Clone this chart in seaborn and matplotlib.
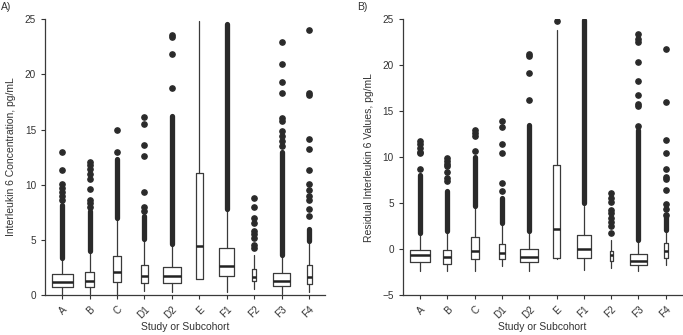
import numpy as np
import seaborn as sns
import matplotlib.pyplot as plt

# Study / subcohort labels and relative box widths (proportional to group size)
cats = ["A", "B", "C", "D1", "D2", "E", "F1", "F2", "F3", "F4"]
il6_width = [0.77, 0.30, 0.28, 0.26, 0.67, 0.26, 0.55, 0.13, 0.61, 0.18]
res_width = [0.76, 0.28, 0.29, 0.24, 0.67, 0.28, 0.51, 0.11, 0.62, 0.16]

# Panel A: interleukin 6 concentration, pg/mL
il6_whislo = [0.05, 0.10, 0.00, 0.40, 0.25, 1.45, 0.30, 0.55, 0.10, 0.25]
il6_q1 = [0.70, 0.70, 1.15, 1.09, 1.09, 1.45, 1.70, 1.24, 0.85, 1.00]
il6_med = [1.18, 1.24, 2.06, 1.70, 1.70, 4.48, 2.67, 1.60, 1.30, 1.60]
il6_q3 = [1.88, 2.09, 3.58, 2.73, 2.58, 11.09, 4.24, 2.36, 1.97, 2.73]
il6_whishi = [3.30, 3.90, 6.97, 4.94, 4.55, 24.80, 7.67, 3.64, 3.50, 4.70]
# runs of outliers so dense they merge into a solid column
il6_dense_lo = [3.4, 4.0, 7.0, 5.1, 4.6, np.nan, 7.8, np.nan, 3.6, 4.9]
il6_dense_hi = [8.2, 7.6, 12.3, 7.2, 16.2, np.nan, 24.6, np.nan, 13.0, 6.0]
# single outliers
il6_out = [
    [8.6, 9.0, 9.3, 9.7, 10.1, 11.3, 13.0],
    [8.0, 8.3, 8.6, 9.6, 10.5, 11.0, 11.4, 11.8, 12.1],
    [13.0, 15.0],
    [7.6, 8.0, 9.3, 12.6, 13.6, 15.5, 16.1],
    [18.8, 21.8, 23.4, 23.6],
    [],
    [],
    [4.3, 4.5, 5.2, 5.5, 5.8, 6.5, 7.0, 8.0, 8.8],
    [13.5, 14.0, 14.4, 14.9, 15.8, 16.0, 18.3, 19.3, 20.9, 22.9],
    [7.2, 7.8, 8.6, 9.0, 9.5, 10.1, 11.3, 13.2, 14.1, 18.1, 18.3, 24.0],
]

# Panel B: residual interleukin 6 values, pg/mL
res_whislo = [-2.43, -2.36, -2.43, -1.78, -2.43, -1.05, -2.25, -2.07, -2.36, -1.70]
res_q1 = [-1.45, -1.60, -1.09, -1.09, -1.45, -0.98, -0.91, -1.34, -1.70, -0.98]
res_med = [-0.69, -0.87, -0.25, -0.43, -0.87, 2.21, 0.00, -0.69, -1.27, -0.25]
res_q3 = [-0.07, -0.07, 1.30, 0.54, 0.00, 9.09, 1.56, -0.18, -0.54, 0.65]
res_whishi = [1.67, 1.85, 4.64, 2.64, 1.92, 23.80, 4.64, 1.01, 0.83, 1.99]
res_dense_lo = [1.8, 2.0, 4.7, 2.8, 2.0, np.nan, 5.0, np.nan, 1.0, 2.1]
res_dense_hi = [8.1, 6.3, 10.0, 5.6, 13.5, np.nan, 24.9, np.nan, 13.0, 3.5]
res_out = [
    [8.7, 10.4, 10.6, 11.0, 11.4, 11.8],
    [7.4, 7.7, 8.4, 9.0, 9.3, 9.6, 9.9],
    [10.7, 12.3, 12.6, 13.0],
    [6.3, 7.2, 10.4, 11.4, 13.3, 13.9],
    [16.2, 19.1, 21.0, 21.2],
    [24.75],
    [],
    [1.8, 2.5, 3.0, 3.4, 3.9, 4.3, 5.1, 5.6, 6.1],
    [13.4, 15.6, 15.8, 16.7, 18.3, 20.3, 22.5, 22.8, 23.4],
    [3.7, 4.4, 4.9, 6.4, 7.6, 7.8, 8.7, 10.5, 11.9, 16.0, 21.7],
]

LINE = "#3a3a3a"
DOT = "#2a2a2a"
TXT = "#333333"
DOT_SIZE = 3.8


def draw_panel(ax, whislo, q1, med, q3, whishi, dense_lo, dense_hi, outliers, widths):
    stats = []
    for i, c in enumerate(cats):
        stats.append(dict(label=c, whislo=whislo[i], q1=q1[i], med=med[i],
                          q3=q3[i], whishi=whishi[i], fliers=outliers[i]))
    pos = np.arange(len(cats))
    ax.bxp(stats, positions=pos, widths=widths, showcaps=False,
           boxprops=dict(color=LINE, linewidth=0.9),
           whiskerprops=dict(color=LINE, linewidth=0.9),
           medianprops=dict(color="#222222", linewidth=1.8),
           flierprops=dict(marker="o", markersize=DOT_SIZE, markerfacecolor=DOT,
                           markeredgecolor=DOT, linestyle="none"))
    # dense outlier runs drawn as solid columns of dots
    ax.vlines(pos, dense_lo, dense_hi, colors=DOT, linewidth=DOT_SIZE,
              capstyle="round")
    ax.set_xlim(-0.62, len(cats) - 0.42)
    ax.set_xticks(pos)
    ax.set_xticklabels(cats, rotation=45, ha="right", rotation_mode="anchor")
    ax.set_xlabel("Study or Subcohort", fontsize=7.5, color=TXT, labelpad=1)
    ax.tick_params(labelsize=7.2, colors=TXT, length=3, width=0.8)
    for s in ["left", "bottom"]:
        ax.spines[s].set_color(LINE)
        ax.spines[s].set_linewidth(0.9)
    sns.despine(ax=ax)


sns.set_style("ticks")
plt.rcParams["font.family"] = ["Liberation Sans", "DejaVu Sans"]

fig = plt.figure(figsize=(6.83, 3.35), dpi=100)
ax1 = fig.add_axes([0.066, 0.119, 0.410, 0.824])
ax2 = fig.add_axes([0.590, 0.119, 0.408, 0.824])

draw_panel(ax1, il6_whislo, il6_q1, il6_med, il6_q3, il6_whishi,
           il6_dense_lo, il6_dense_hi, il6_out, il6_width)
ax1.set_ylim(0, 25)
ax1.set_yticks([0, 5, 10, 15, 20, 25])
ax1.set_ylabel("Interleukin 6 Concentration, pg/mL", fontsize=7.5, color=TXT, labelpad=6)

draw_panel(ax2, res_whislo, res_q1, res_med, res_q3, res_whishi,
           res_dense_lo, res_dense_hi, res_out, res_width)
ax2.set_ylim(-5, 25)
ax2.set_yticks([-5, 0, 5, 10, 15, 20, 25])
ax2.set_yticklabels(["\u22125", "0", "5", "10", "15", "20", "25"])
ax2.set_ylabel("Residual Interleukin 6 Values, pg/mL", fontsize=7.5, color=TXT, labelpad=6)

fig.text(0.002, 0.995, "A)", fontsize=7.5, va="top", ha="left", color=TXT)
fig.text(0.523, 0.995, "B)", fontsize=7.5, va="top", ha="left", color=TXT)

fig.savefig("out.png", dpi=100)
